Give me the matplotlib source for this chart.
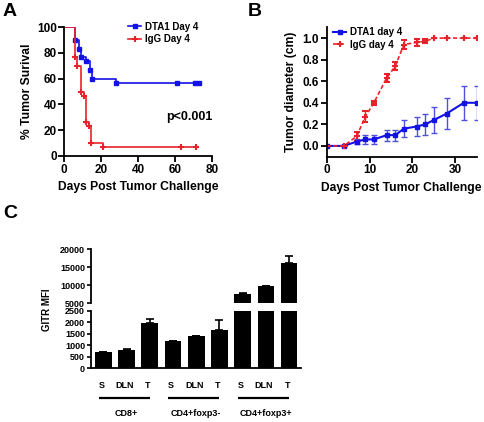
import numpy as np
import matplotlib
matplotlib.use("Agg")
from matplotlib import pyplot as plt
from matplotlib.lines import Line2D
import matplotlib.transforms as mtransforms

plt.rcParams['font.family'] = ['Liberation Sans', 'DejaVu Sans']
plt.rcParams['font.weight'] = 'bold'
plt.rcParams['axes.labelweight'] = 'bold'

# panel A - survival
dta_days = [0, 6, 8, 9, 11.5, 14, 15, 28]
dta_surv = [100, 90, 83.3, 76.7, 73.3, 66.7, 60, 56.7]
dta_cens = [61, 71, 73]
igg_days = [0, 6, 7, 9, 10.5, 11.5, 13.5, 14.5, 21]
igg_surv = [100, 76.7, 70, 50, 46.7, 26.7, 23.3, 10, 6.7]
igg_cens = [63, 71.5]

# panel B - tumor diameter
b_days = [0, 4, 7, 9, 11, 14, 16, 18, 21, 23, 25, 28, 32, 35]
dta_diam = [0, 0, 0.04, 0.06, 0.06, 0.10, 0.10, 0.16, 0.18, 0.20, 0.24, 0.30, 0.40, 0.40]
dta_err = [0, 0, 0.02, 0.04, 0.04, 0.05, 0.05, 0.08, 0.09, 0.10, 0.12, 0.14, 0.16, 0.16]
igg_diam = [0, 0, 0.09, 0.27, 0.40, 0.63, 0.74, 0.94, 0.96, 0.97, 1.0, 1.0, 1.0, 1.0]
igg_err = [0, 0, 0.04, 0.05, 0.02, 0.04, 0.04, 0.04, 0.03, 0.02, 0, 0, 0, 0]

# panel C - GITR MFI
cells = ['S', 'DLN', 'T', 'S', 'DLN', 'T', 'S', 'DLN', 'T']
groups = ['CD8+', 'CD4+foxp3-', 'CD4+foxp3+']
mfi = [690, 820, 1980, 1190, 1400, 1680, 7700, 9700, 16200]
mfi_err = [15, 15, 180, 15, 15, 420, 60, 120, 1900]

W, H = 484, 422
fig = plt.figure(figsize=(W / 100, H / 100), dpi=100)


def box(l, t, r, b):
    return [l / W, 1 - b / H, (r - l) / W, (b - t) / H]


def style(ax, fs=8.5):
    for s in ['top', 'right']:
        ax.spines[s].set_visible(False)
    for s in ['left', 'bottom']:
        ax.spines[s].set_linewidth(1.3)
    ax.tick_params(width=1.3, length=4, labelsize=fs, pad=1.5)


blue = '#1212e6'
red = '#e8222a'
lab_fs = 8.7

# ---- A
axA = fig.add_axes(box(64.3, 27, 212, 156))
style(axA)
axA.plot(dta_days + [73], dta_surv + [dta_surv[-1]], drawstyle='steps-post', color=blue, lw=1.2)
axA.plot(dta_days[1:] + dta_cens, dta_surv[1:] + [dta_surv[-1]] * len(dta_cens), 's', color=blue, ms=3.5, ls='none')
axA.plot(igg_days + [71.5], igg_surv + [igg_surv[-1]], drawstyle='steps-post', color=red, lw=1.2)
axA.plot(igg_days[1:] + igg_cens, igg_surv[1:] + [igg_surv[-1]] * len(igg_cens), '+', color=red, ms=4, mew=1.5, ls='none')
axA.set_xlim(0, 80)
axA.set_ylim(0, 100)
axA.set_xticks([0, 20, 40, 60, 80])
axA.set_yticks([0, 20, 40, 60, 80, 100])
axA.set_xlabel('Days Post Tumor Challenge', fontsize=lab_fs, labelpad=4)
axA.set_ylabel('% Tumor Surival', fontsize=lab_fs, labelpad=3)
axA.text(68, 30, 'p<0.001', fontsize=9, ha='center', va='center')
hA = [Line2D([], [], color=blue, marker='s', ms=3.5, lw=1.2),
      Line2D([], [], color=red, marker='+', ms=4, mew=1.5, lw=1.2)]
axA.legend(hA, ['DTA1 Day 4', 'IgG Day 4'], loc='upper left', bbox_to_anchor=(0.43, 1.04),
           frameon=False, fontsize=7, handlelength=1.4, handletextpad=0.4, labelspacing=0.25,
           borderpad=0, borderaxespad=0)

# ---- B
axB = fig.add_axes(box(326.7, 27.3, 476.7, 156.7))
style(axB)
axB.errorbar(b_days, dta_diam, yerr=dta_err, color=blue, ecolor='#5050dd', lw=1.5, marker='s', ms=3.5,
             capsize=2.5, elinewidth=1, capthick=1)
axB.errorbar(b_days, igg_diam, yerr=igg_err, color=red, ecolor=red, lw=1.2, ls=(0, (2.5, 1.5)), marker='+',
             ms=4, mew=1.5, capsize=2.5, elinewidth=1, capthick=1)
axB.set_xlim(0, 35)
axB.set_ylim(-0.1, 1.1)
axB.set_xticks([0, 10, 20, 30])
axB.set_yticks([0, 0.2, 0.4, 0.6, 0.8, 1.0])
axB.yaxis.set_major_formatter(matplotlib.ticker.FormatStrFormatter('%.1f'))
axB.set_xlabel('Days Post Tumor Challenge', fontsize=lab_fs, labelpad=4)
axB.set_ylabel('Tumor diameter (cm)', fontsize=lab_fs, labelpad=4)
hB = [Line2D([], [], color=blue, marker='s', ms=3.5, lw=1.5),
      Line2D([], [], color=red, marker='+', ms=4, mew=1.5, lw=1.2, ls=(0, (2.5, 1.5)))]
axB.legend(hB, ['DTA1 day 4', 'IgG day 4'], loc='upper left', bbox_to_anchor=(0.04, 1.0),
           frameon=False, fontsize=7, handlelength=1.4, handletextpad=0.4, labelspacing=0.25,
           borderpad=0, borderaxespad=0)

# ---- C (broken axis)
x = np.arange(len(mfi))
axHi = fig.add_axes(box(91.3, 249.3, 300.7, 303.3))
axLo = fig.add_axes(box(91.3, 311, 300.7, 368.3))
for ax in (axHi, axLo):
    style(ax, fs=6.5)
    ax.tick_params(length=3, width=1.2)
    ax.bar(x, mfi, width=0.72, color='black',
           yerr=[np.zeros(len(mfi)), mfi_err], error_kw=dict(ecolor='black', capsize=3, elinewidth=1.2, capthick=1.2))
    ax.set_xlim(-0.52, 8.5)
axHi.spines['bottom'].set_visible(False)
axHi.set_xticks([])
axHi.set_ylim(5000, 20000)
axHi.set_yticks([5000, 10000, 15000, 20000])
axLo.set_ylim(0, 2500)
axLo.set_yticks([0, 500, 1000, 1500, 2000, 2500])
axLo.set_xticks([])
fig.text(46.7 / W, 1 - 310 / H, 'GITR MFI', rotation=90, ha='center', va='center', fontsize=7)

trans = mtransforms.blended_transform_factory(axLo.transData, axLo.transAxes)
for i, c in enumerate(cells):
    axLo.text(x[i] - 0.08, -0.3, c, transform=trans, ha='center', va='center', fontsize=6.5)
for g, name in enumerate(groups):
    axLo.plot([3 * g - 0.2, 3 * g + 2.0], [-0.51, -0.51], transform=trans, color='black', lw=1.6,
              clip_on=False, solid_capstyle='butt')
    axLo.text(3 * g + 1, -0.79, name, transform=trans, ha='center', va='center', fontsize=6.5)

fig.text(3 / W, 1 - 12 / H, 'A', fontsize=14, va='center', ha='left')
fig.text(248 / W, 1 - 12 / H, 'B', fontsize=14, va='center', ha='left')
fig.text(3 / W, 1 - 214 / H, 'C', fontsize=14, va='center', ha='left')

fig.savefig('out.png', dpi=100)
